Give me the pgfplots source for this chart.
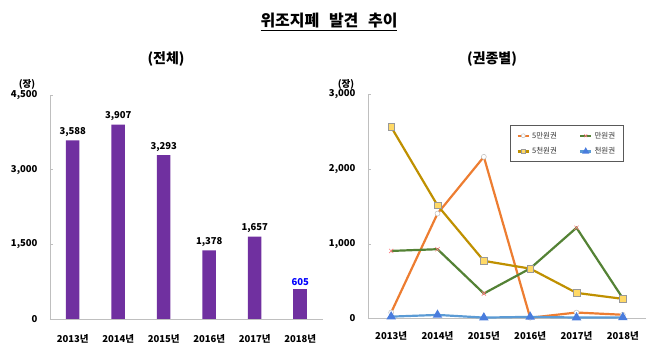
\documentclass[border=0pt]{standalone}
\usepackage{fontspec}
\setmainfont{Noto Sans CJK KR}
\usepackage{pgfplots}
\pgfplotsset{compat=1.18}
\definecolor{barpurple}{HTML}{7030A0}
\definecolor{lorange}{HTML}{ED7D31}
\definecolor{lgreen}{HTML}{548235}
\definecolor{lgold}{HTML}{BF9000}
\definecolor{lblue}{HTML}{5B9BD5}
\definecolor{mgold}{HTML}{FFD966}
\definecolor{mpink}{HTML}{FF7C80}
\definecolor{axgray}{HTML}{BFBFBF}
\definecolor{labblue}{HTML}{0000FF}
\begin{document}
\begin{tikzpicture}
\path[use as bounding box] (0pt,0pt) rectangle (650pt,353pt);
% title
\node[font=\fontsize{16}{18}\selectfont\bfseries] at (329pt,331pt) {\underline{위조지폐\hspace{0.6em}발견\hspace{0.6em}추이}};
\node[font=\fontsize{14}{16}\selectfont\bfseries] at (166pt,294pt) {(전체)};
\node[font=\fontsize{14}{16}\selectfont\bfseries] at (492pt,294pt) {(권종별)};
\node[font=\fontsize{9.5}{11}\selectfont\bfseries] at (27pt,268.5pt) {(장)};
\node[font=\fontsize{9.5}{11}\selectfont\bfseries] at (346pt,269pt) {(장)};

\pgfplotsset{
  common/.style={
    scale only axis,
    xmin=-0.5, xmax=5.5,
    xtick={0,1,2,3,4,5},
    xticklabels={2013년,2014년,2015년,2016년,2017년,2018년},
    axis x line*=bottom, axis y line*=left,
    axis line style={axgray, line width=0.8pt},
    x axis line style={-}, y axis line style={-},
    xtick style={draw=none},
    ytick style={axgray, line width=0.6pt},
    tick align=inside, major tick length=3pt,
    ticklabel style={font=\fontsize{9.5}{11}\selectfont\bfseries},
    /pgf/number format/assume math mode=true,
    /pgf/number format/1000 sep={,},
    scaled y ticks=false,
    yticklabel style={xshift=-9pt},
    xticklabel style={yshift=-9pt},
  }
}

\begin{axis}[common,
  at={(50pt,34pt)}, anchor=south west,
  width=273pt, height=224pt,
  ymin=0, ymax=4500,
  ytick={0,1500,3000,4500},
  ybar, bar width=13.5pt,
  nodes near coords,
  nodes near coords style={font=\fontsize{9.5}{11}\selectfont\bfseries, /pgf/number format/assume math mode=true, /pgf/number format/1000 sep={,}, yshift=0pt},
]
\addplot[fill=barpurple, draw=none, bar shift=0pt] coordinates {(0,3588) (1,3907) (2,3293) (3,1378) (4,1657)};
\addplot[fill=barpurple, draw=none, bar shift=0pt, nodes near coords style={text=labblue}] coordinates {(5,605)};
\end{axis}

\begin{axis}[common,
  at={(368pt,34.5pt)}, anchor=south west,
  width=278pt, height=224pt,
  ymin=0, ymax=3000,
  ytick={0,1000,2000,3000},
  legend columns=2,
  legend cell align=left,
  legend style={at={(0.511,0.862)}, anchor=north west, draw=black!65, line width=0.9pt,
    font=\fontsize{7.5}{9}\selectfont, text=black!80, inner xsep=6pt, inner ysep=4pt,
    /tikz/every even column/.append style={column sep=20pt}, row sep=4pt},
  legend image code/.code={\draw[mark repeat=2,mark phase=2, mark size=2pt] plot coordinates {(0cm,0cm) (0.2cm,0cm) (0.4cm,0cm)};},
]
\addplot[lorange, line width=2.2pt, mark=*, mark size=2.5pt, mark options={fill=white, draw=axgray, line width=0.5pt}]
  coordinates {(0,80) (1,1405) (2,2165) (3,10) (4,80) (5,50)};
\addlegendentry{5만원권}
\addplot[lgreen, line width=2.2pt, mark=x, mark size=3pt, mark options={draw=mpink, line width=0.6pt}]
  coordinates {(0,905) (1,928) (2,335) (3,670) (4,1215) (5,270)};
\addlegendentry{만원권}
\addplot[lgold, line width=2.2pt, mark=square*, mark size=3.3pt, mark options={fill=mgold, draw=black!40, line width=0.5pt}]
  coordinates {(0,2565) (1,1515) (2,772) (3,668) (4,343) (5,263)};
\addlegendentry{5천원권}
\addplot[lblue, line width=2.2pt, mark=triangle*, mark size=3.3pt, mark options={fill=lblue!80!blue, draw=lblue!80!blue}]
  coordinates {(0,25) (1,48) (2,12) (3,22) (4,13) (5,15)};
\addlegendentry{천원권}
\end{axis}
\end{tikzpicture}
\end{document}
